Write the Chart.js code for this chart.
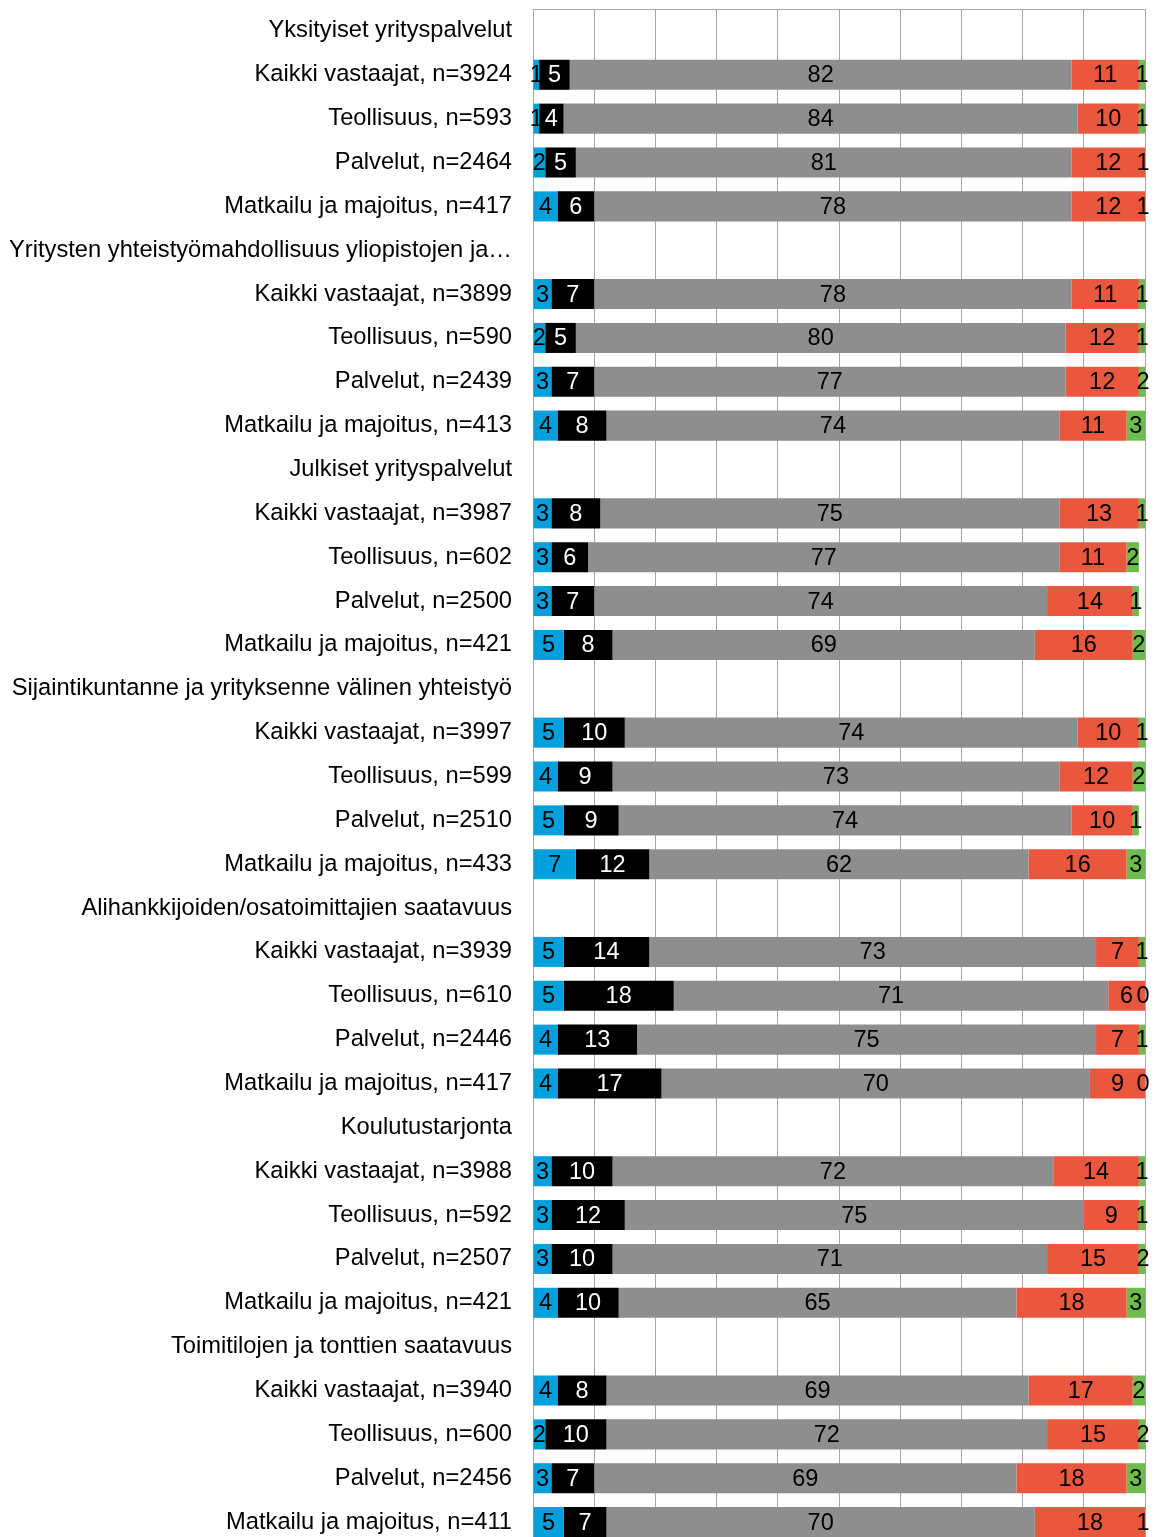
<!DOCTYPE html>
<html>
<head>
<meta charset="utf-8">
<script src="https://cdn.jsdelivr.net/npm/chart.js@4"></script>
<style>
  html, body { margin: 0; padding: 0; background: #fff; overflow: hidden; }
  #wrap { position: relative; width: 1155px; height: 1544px; }
</style>
</head>
<body>
<div id="wrap"><canvas id="c"></canvas></div>
<script>
const labels = [
  "Yksityiset yrityspalvelut",
  "Kaikki vastaajat, n=3924", "Teollisuus, n=593", "Palvelut, n=2464", "Matkailu ja majoitus, n=417",
  "Yritysten yhteistyömahdollisuus yliopistojen ja…",
  "Kaikki vastaajat, n=3899", "Teollisuus, n=590", "Palvelut, n=2439", "Matkailu ja majoitus, n=413",
  "Julkiset yrityspalvelut",
  "Kaikki vastaajat, n=3987", "Teollisuus, n=602", "Palvelut, n=2500", "Matkailu ja majoitus, n=421",
  "Sijaintikuntanne ja yrityksenne välinen yhteistyö",
  "Kaikki vastaajat, n=3997", "Teollisuus, n=599", "Palvelut, n=2510", "Matkailu ja majoitus, n=433",
  "Alihankkijoiden/osatoimittajien saatavuus",
  "Kaikki vastaajat, n=3939", "Teollisuus, n=610", "Palvelut, n=2446", "Matkailu ja majoitus, n=417",
  "Koulutustarjonta",
  "Kaikki vastaajat, n=3988", "Teollisuus, n=592", "Palvelut, n=2507", "Matkailu ja majoitus, n=421",
  "Toimitilojen ja tonttien saatavuus",
  "Kaikki vastaajat, n=3940", "Teollisuus, n=600", "Palvelut, n=2456", "Matkailu ja majoitus, n=411"
];

const seriesNames = ["Sarja 1", "Sarja 2", "Sarja 3", "Sarja 4", "Sarja 5"];

const s1 = [null,1,1,2,4, null,3,2,3,4, null,3,3,3,5, null,5,4,5,7, null,5,5,4,4, null,3,3,3,4, null,4,2,3,5];
const s2 = [null,5,4,5,6, null,7,5,7,8, null,8,6,7,8, null,10,9,9,12, null,14,18,13,17, null,10,12,10,10, null,8,10,7,7];
const s3 = [null,82,84,81,78, null,78,80,77,74, null,75,77,74,69, null,74,73,74,62, null,73,71,75,70, null,72,75,71,65, null,69,72,69,70];
const s4 = [null,11,10,12,12, null,11,12,12,11, null,13,11,14,16, null,10,12,10,16, null,7,6,7,9, null,14,9,15,18, null,17,15,18,18];
const s5 = [null,1,1,1,1, null,1,1,2,3, null,1,2,1,2, null,1,2,1,3, null,1,0,1,0, null,1,1,2,3, null,2,2,3,1];

const xTicks = [0,10,20,30,40,50,60,70,80,90,100];

const colors = ["#00a0dc", "#000000", "#8e8e8e", "#e9573f", "#6cbd4e"];
const textColors = ["#000000", "#ffffff", "#000000", "#000000", "#000000"];
const FONT = '"Liberation Sans", Arial, sans-serif';

const valueLabels = {
  id: 'valueLabels',
  afterDatasetsDraw(chart) {
    const ctx = chart.ctx;
    const right = chart.chartArea.right;
    ctx.save();
    ctx.font = '23.5px ' + FONT;
    ctx.textAlign = 'center';
    ctx.textBaseline = 'middle';
    chart.data.datasets.forEach((ds, di) => {
      const meta = chart.getDatasetMeta(di);
      meta.data.forEach((el, i) => {
        const v = ds.data[i];
        if (v === null || v === undefined) return;
        let cx = (el.x + el.base) / 2;
        if (cx > right - 2) cx = right - 2;
        ctx.fillStyle = textColors[di];
        ctx.fillText(String(v), cx, el.y + 1);
      });
    });
    ctx.restore();
  }
};

const frame = {
  id: 'frame',
  beforeDatasetsDraw(chart) {
    const a = chart.chartArea, ctx = chart.ctx;
    ctx.save();
    ctx.strokeStyle = '#a6a6a6';
    ctx.lineWidth = 1;
    ctx.beginPath();
    ctx.moveTo(a.left, a.top + 0.5);
    ctx.lineTo(a.right, a.top + 0.5);
    ctx.stroke();
    ctx.restore();
  }
};

const datasets = [s1, s2, s3, s4, s5].map((d, i) => ({
  label: seriesNames[i],
  data: d,
  backgroundColor: colors[i],
  borderWidth: 0,
  barPercentage: 0.685,
  categoryPercentage: 1.0
}));

new Chart(document.getElementById('c'), {
  type: 'bar',
  data: { labels, datasets },
  options: {
    indexAxis: 'y',
    responsive: true,
    maintainAspectRatio: false,
    animation: false,
    layout: { padding: { top: 9, right: 10, bottom: 0, left: 0 } },
    plugins: { legend: { display: false }, tooltip: { enabled: false } },
    scales: {
      x: {
        stacked: true,
        min: 0, max: 100,
        afterBuildTicks(scale) { scale.ticks = xTicks.map(v => ({ value: v })); },
        ticks: { display: false },
        grid: { color: '#a6a6a6', lineWidth: 1, drawTicks: false },
        border: { display: false }
      },
      y: {
        stacked: true,
        afterFit(scale) { scale.width = 533; scale.paddingTop = 0; scale.paddingBottom = 0; },
        ticks: { color: '#000', font: { family: FONT, size: 23.7 }, padding: 21, autoSkip: false },
        grid: { display: false, drawTicks: false },
        border: { display: true, color: '#a6a6a6', width: 1 }
      }
    }
  },
  plugins: [valueLabels, frame]
});
</script>
</body>
</html>
